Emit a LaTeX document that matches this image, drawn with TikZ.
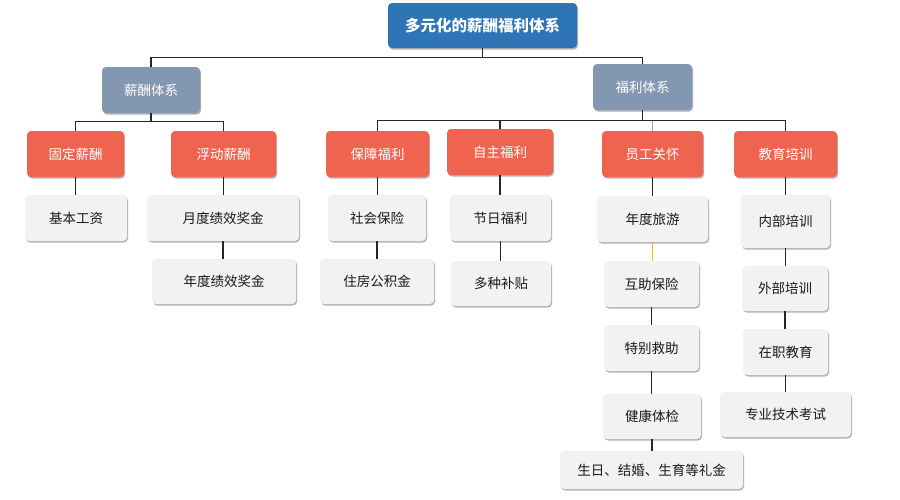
\documentclass[tikz,border=0pt]{standalone}
\usepackage{fontspec}
\setmainfont{Noto Sans CJK SC}
\usetikzlibrary{shadows}
\definecolor{rootblue}{HTML}{2E75B6}
\definecolor{sysgray}{HTML}{8497B0}
\definecolor{catred}{HTML}{F0644F}
\definecolor{leafgray}{HTML}{F2F2F2}
\definecolor{linkyellow}{HTML}{FFC000}

\begin{document}
\begin{tikzpicture}[x=1pt,y=-1pt,
  box/.style={rounded corners=4pt,inner sep=0pt,align=center,
    drop shadow={shadow xshift=1pt,shadow yshift=-1.5pt,opacity=0.3,fill=black}},
  rootbox/.style={box,fill=rootblue,text=white,font=\fontsize{15.5}{18}\selectfont\bfseries},
  sysbox/.style={box,fill=sysgray,text=white,font=\fontsize{13.5}{16}\selectfont},
  catbox/.style={box,fill=catred,text=white,font=\fontsize{13.5}{16}\selectfont},
  leafbox/.style={box,fill=leafgray,text=black!90,font=\fontsize{13.5}{16}\selectfont},
  link/.style={draw=black!85,line width=1.1pt}]
\fill[white] (0,0) rectangle (900,499);
\useasboundingbox (0,0) rectangle (900,499);

% top
\node[rootbox,minimum width=189pt,minimum height=45pt] (root) at (482.5,25.5) {多元化的薪酬福利体系};
\node[sysbox,minimum width=98pt,minimum height=46pt] (xc) at (151,90) {薪酬体系};
\node[sysbox,minimum width=99pt,minimum height=46pt] (fl) at (642.5,87) {福利体系};

% categories
\node[catbox,minimum width=97pt,minimum height=46pt] (gd) at (75.5,154) {固定薪酬};
\node[catbox,minimum width=105pt,minimum height=46pt] (fd) at (223.5,154) {浮动薪酬};
\node[catbox,minimum width=103pt,minimum height=46pt] (bz) at (377.5,154) {保障福利};
\node[catbox,minimum width=106pt,minimum height=46pt] (zz) at (500,152) {自主福利};
\node[catbox,minimum width=101pt,minimum height=46pt] (yg) at (652.5,154) {员工关怀};
\node[catbox,minimum width=103pt,minimum height=46pt] (jy) at (785.5,154) {教育培训};

% leaves
\node[leafbox,minimum width=102pt,minimum height=46pt] (jb) at (76,218) {基本工资};
\node[leafbox,minimum width=152pt,minimum height=46pt] (ydjx) at (223,218) {月度绩效奖金};
\node[leafbox,minimum width=144pt,minimum height=45pt] (ndjx) at (224,281.5) {年度绩效奖金};
\node[leafbox,minimum width=98pt,minimum height=46pt] (sb) at (377,218) {社会保险};
\node[leafbox,minimum width=114pt,minimum height=45pt] (zf) at (377,281.5) {住房公积金};
\node[leafbox,minimum width=101pt,minimum height=46pt] (jr) at (500.5,218) {节日福利};
\node[leafbox,minimum width=100pt,minimum height=45pt] (dz) at (501,283.5) {多种补贴};
\node[leafbox,minimum width=111pt,minimum height=46pt] (ly) at (652.5,219) {年度旅游};
\node[leafbox,minimum width=95pt,minimum height=46pt] (hz) at (651.5,284) {互助保险};
\node[leafbox,minimum width=95pt,minimum height=46pt] (tb) at (651.5,348) {特别救助};
\node[leafbox,minimum width=98pt,minimum height=45pt] (jk) at (652,416.5) {健康体检};
\node[leafbox,minimum width=183pt,minimum height=38pt] (sr) at (651.5,470) {生日、结婚、生育等礼金};
\node[leafbox,minimum width=89pt,minimum height=53pt] (nb) at (785.5,221.5) {内部培训};
\node[leafbox,minimum width=86pt,minimum height=45pt] (wb) at (785,288.5) {外部培训};
\node[leafbox,minimum width=85pt,minimum height=46pt] (zj) at (785.5,352) {在职教育};
\node[leafbox,minimum width=131pt,minimum height=45pt] (zy) at (785.5,414.5) {专业技术考试};

% tree links
\draw[link,draw=black!35] (fl.south) ++(0,10) -| (yg.north);
\draw[link] (root.south) -- ++(0,9) -| (xc.north);
\draw[link] (root.south) -- ++(0,9) -| (fl.north);
\draw[link] (xc.south) -- ++(0,8) -| (gd.north);
\draw[link] (xc.south) -- ++(0,8) -| (fd.north);
\draw[link] (fl.south) -- ++(0,10) -| (bz.north);
\draw[link] (fl.south) -- ++(0,10) -| (zz.north);
\draw[link] (fl.south) -- ++(0,10) -| (jy.north);

% stacks
\draw[link] (gd.south) -- (gd.south |- jb.north);
\draw[link] (fd.south) -- (fd.south |- ydjx.north);
\draw[link] (ydjx.south) -- (ydjx.south |- ndjx.north);
\draw[link] (bz.south) -- (bz.south |- sb.north);
\draw[link] (sb.south) -- (sb.south |- zf.north);
\draw[link] (zz.south) -- (zz.south |- jr.north);
\draw[link] (jr.south) -- (jr.south |- dz.north);
\draw[link] (yg.south) -- (yg.south |- ly.north);
\draw[link,draw=linkyellow] (ly.south) -- (ly.south |- hz.north);
\draw[link] (hz.south) -- (hz.south |- tb.north);
\draw[link] (tb.south) -- (tb.south |- jk.north);
\draw[link] (jk.south) -- (jk.south |- sr.north);
\draw[link] (jy.south) -- (jy.south |- nb.north);
\draw[link] (nb.south) -- (nb.south |- wb.north);
\draw[link] (wb.south) -- (wb.south |- zj.north);
\draw[link] (zj.south) -- (zj.south |- zy.north);
\end{tikzpicture}
\end{document}
